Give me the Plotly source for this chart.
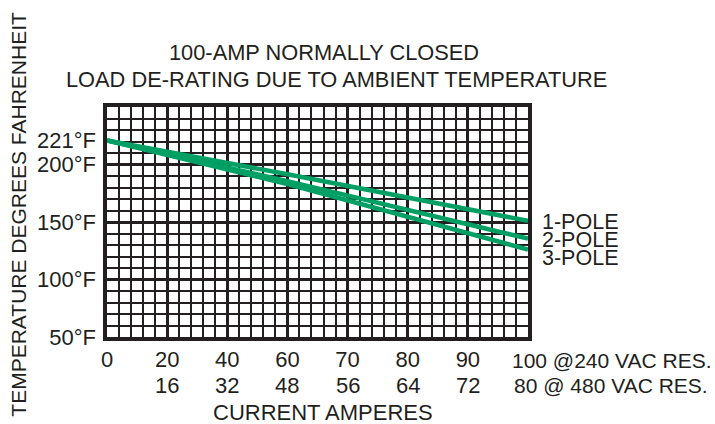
import plotly.graph_objects as go

# ---- data ----
x_pos = [0, 3, 7]                      # positions on the evenly spaced current axis
pole1 = [221, 191.5, 151]
pole2 = [221, 185.5, 135.5]
pole3 = [221, 183, 126]
series_names = ["1-POLE", "2-POLE", "3-POLE"]

amps_240 = ["0", "20", "40", "60", "70", "80", "90", "100 @240 VAC RES."]
amps_480 = ["", "16", "32", "48", "56", "64", "72", "80 @ 480 VAC RES."]
temp_ticks = [50, 100, 150, 200, 221]
temp_labels = ["50°F", "100°F", "150°F", "200°F", "221°F"]

title1 = "100-AMP NORMALLY CLOSED"
title2 = "LOAD DE-RATING DUE TO AMBIENT TEMPERATURE"
x_title = "CURRENT AMPERES"
y_title = "TEMPERATURE DEGREES FAHRENHEIT"

# ---- style ----
FONT = "Liberation Sans, Arial, Helvetica, sans-serif"
FS = 22
TXT = "#231f20"
GREEN = "#00a064"
GRID = "#231f20"

fig = go.Figure()
for name, vals in zip(series_names, [pole1, pole2, pole3]):
    fig.add_trace(go.Scatter(x=x_pos, y=vals, mode="lines", name=name,
                             line=dict(color=GREEN, width=4.5),
                             showlegend=False, hoverinfo="skip"))
# invisible trace so the label axis (y2) is drawn
fig.add_trace(go.Scatter(x=x_pos, y=pole1, yaxis="y2", mode="lines",
                         line=dict(width=0), opacity=0, showlegend=False,
                         hoverinfo="skip"))

n = len(amps_240)
fig.update_layout(
    width=715, height=424,
    margin=dict(l=107, r=187, t=107, b=87),
    paper_bgcolor="white", plot_bgcolor="white",
    font=dict(family=FONT, size=FS, color=TXT),
    xaxis=dict(range=[0, n - 1], tickmode="array",
               tickvals=list(range(n - 1)), ticktext=amps_240[:-1],
               showgrid=True, gridcolor=GRID, gridwidth=3,
               minor=dict(dtick=0.2, tick0=0, showgrid=True, gridcolor=GRID, gridwidth=1.8),
               showline=True, linecolor=GRID, linewidth=4, mirror=True,
               ticks="", ticklabelstandoff=0, zeroline=False, automargin=False,
               tickfont=dict(size=FS, color=TXT, family=FONT), fixedrange=True),
    yaxis=dict(range=[50, 250], tick0=50, dtick=50,
               showgrid=True, gridcolor=GRID, gridwidth=3,
               minor=dict(dtick=10, tick0=50, showgrid=True, gridcolor=GRID, gridwidth=1.8),
               showline=True, linecolor=GRID, linewidth=4, mirror=True, automargin=False,
               showticklabels=False, ticks="", zeroline=False, fixedrange=True),
    yaxis2=dict(range=[50, 250], overlaying="y", side="left", anchor="x",
                tickmode="array", tickvals=temp_ticks, ticktext=temp_labels,
                showgrid=False, zeroline=False, showline=False, ticks="",
                ticklabelstandoff=10, automargin=False,
                tickfont=dict(size=FS, color=TXT, family=FONT), fixedrange=True),
)

ann = []
# second row of x labels
for i in range(1, n - 1):
    ann.append(dict(x=i, y=-0.212, xref="x", yref="paper", text=amps_480[i],
                    showarrow=False, xanchor="center", yanchor="middle"))
# last column labels
ann.append(dict(x=n - 1, y=-0.102, xref="x", yref="paper", text=amps_240[-1],
                showarrow=False, xanchor="left", yanchor="middle", xshift=-18,
                font=dict(size=21, color=TXT, family=FONT)))
ann.append(dict(x=n - 1, y=-0.212, xref="x", yref="paper", text=amps_480[-1],
                showarrow=False, xanchor="left", yanchor="middle", xshift=-16,
                font=dict(size=21, color=TXT, family=FONT)))
# axis titles
ann.append(dict(x=0.513, y=-0.328, xref="paper", yref="paper", text=x_title,
                showarrow=False, xanchor="center", yanchor="middle"))
ann.append(dict(x=-0.209, y=0.532, xref="paper", yref="paper", text=y_title,
                showarrow=False, textangle=-90, xanchor="center", yanchor="middle",
                font=dict(size=21, color=TXT, family=FONT)))
# chart title
ann.append(dict(x=0.515, y=1.236, xref="paper", yref="paper", text=title1,
                showarrow=False, xanchor="center", yanchor="middle",
                font=dict(size=21.8, color=TXT, family=FONT)))
ann.append(dict(x=0.544, y=1.119, xref="paper", yref="paper", text=title2,
                showarrow=False, xanchor="center", yanchor="middle",
                font=dict(size=21.8, color=TXT, family=FONT)))
# series labels
for name, ylab in zip(series_names, [150.3, 134.6, 118.7]):
    ann.append(dict(x=n - 1, y=ylab, xref="x", yref="y", text=name,
                    showarrow=False, xanchor="left", yanchor="middle", xshift=12,
                    font=dict(size=21.5, color=TXT, family=FONT)))

for a in ann:
    a.setdefault("font", dict(size=FS, color=TXT, family=FONT))
fig.update_layout(annotations=ann)

fig.write_html("out.html", config={"displayModeBar": False},
               post_script="document.body.style.margin='0';")
